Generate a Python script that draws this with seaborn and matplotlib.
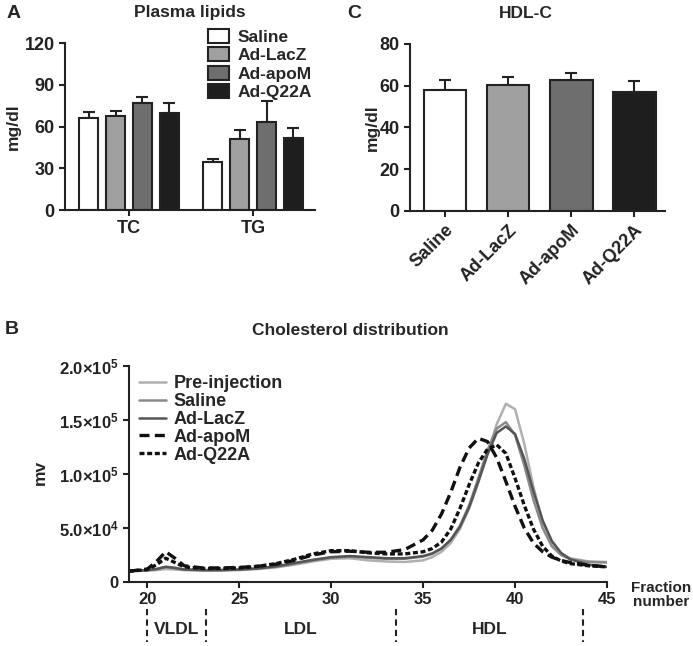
import matplotlib
matplotlib.use("Agg")
import matplotlib.pyplot as plt
from matplotlib.ticker import FuncFormatter
import pandas as pd
import seaborn as sns

# --- data ---
groups = ["Saline", "Ad-LacZ", "Ad-apoM", "Ad-Q22A"]
bar_colors = ["#ffffff", "#a0a0a0", "#6e6e6e", "#1e1e1e"]

lipids = ["TC", "TG"]
tc_mean = [66.0, 67.6, 77.2, 69.5]
tc_sem = [4.5, 3.6, 3.8, 7.2]
tg_mean = [34.8, 51.3, 63.3, 52.0]
tg_sem = [2.2, 6.0, 14.7, 6.8]

hdl_mean = [58.0, 60.3, 62.8, 56.8]
hdl_sem = [4.8, 3.8, 3.2, 5.5]

fraction = [19, 20, 20.5, 21, 21.5, 22, 23, 24, 25, 26, 27, 28, 29, 30, 31, 32, 33, 34,
            35, 35.5, 36, 36.5, 37, 37.5, 38, 38.5, 39, 39.5, 40, 40.5, 41, 41.5, 42,
            42.5, 43, 44, 45]
# values in units of 1e4 mv
pre_injection = [1.0, 1.05, 1.1, 1.2, 1.15, 1.1, 1.05, 1.05, 1.1, 1.2, 1.35, 1.6, 1.9, 2.15,
                 2.2, 2.0, 1.9, 1.85, 2.0, 2.3, 2.8, 3.6, 4.9, 6.8, 9.2, 11.9, 14.6, 16.5,
                 16.0, 12.8, 8.8, 5.6, 3.6, 2.6, 2.2, 1.9, 1.85]
saline = [1.0, 1.1, 1.2, 1.4, 1.3, 1.15, 1.1, 1.1, 1.15, 1.25, 1.4, 1.7, 2.0, 2.25,
          2.35, 2.25, 2.15, 2.15, 2.35, 2.6, 3.1, 3.9, 5.2, 7.1, 9.6, 12.2, 14.2, 14.8,
          13.6, 10.8, 7.6, 5.0, 3.3, 2.5, 2.1, 1.85, 1.8]
ad_lacz = [1.0, 1.1, 1.2, 1.4, 1.3, 1.15, 1.1, 1.1, 1.15, 1.25, 1.45, 1.75, 2.05, 2.3,
           2.4, 2.3, 2.2, 2.2, 2.4, 2.65, 3.1, 3.9, 5.1, 6.9, 9.3, 11.8, 13.8, 14.4,
           13.7, 11.4, 8.4, 5.7, 3.8, 2.7, 2.1, 1.6, 1.4]
ad_apom = [1.0, 1.2, 1.9, 2.8, 2.2, 1.5, 1.3, 1.3, 1.35, 1.45, 1.65, 2.0, 2.5, 2.8,
           2.85, 2.75, 2.75, 3.0, 3.9, 4.8, 6.3, 8.3, 10.6, 12.4, 13.3, 13.0, 11.5, 9.3,
           7.0, 5.0, 3.6, 2.8, 2.3, 2.0, 1.8, 1.55, 1.4]
ad_q22a = [1.0, 1.15, 1.6, 2.2, 1.8, 1.4, 1.25, 1.25, 1.3, 1.45, 1.7, 2.1, 2.6, 2.9,
           2.9, 2.7, 2.6, 2.6, 2.8, 3.1, 3.7, 4.9, 6.8, 9.0, 11.0, 12.3, 12.7, 11.9,
           9.6, 7.1, 4.9, 3.3, 2.4, 1.95, 1.7, 1.5, 1.4]
curve_names = ["Pre-injection", "Saline", "Ad-LacZ", "Ad-apoM", "Ad-Q22A"]
curves = [pre_injection, saline, ad_lacz, ad_apom, ad_q22a]

region_bounds = [20, 23.2, 33.5, 43.7]
region_labels = ["VLDL", "LDL", "HDL"]

# --- style ---
sns.set_style("ticks")
plt.rcParams["font.family"] = ["Liberation Sans", "DejaVu Sans"]
plt.rcParams["font.weight"] = "bold"
plt.rcParams["axes.labelweight"] = "bold"
plt.rcParams["axes.linewidth"] = 1.5
plt.rcParams["xtick.major.width"] = 1.5
plt.rcParams["ytick.major.width"] = 1.5
plt.rcParams["xtick.major.size"] = 4
plt.rcParams["ytick.major.size"] = 4
plt.rcParams["xtick.color"] = "#222222"
plt.rcParams["ytick.color"] = "#222222"
plt.rcParams["axes.edgecolor"] = "#222222"
plt.rcParams["mathtext.fontset"] = "custom"
plt.rcParams["mathtext.rm"] = "Liberation Sans:bold"
plt.rcParams["mathtext.it"] = "Liberation Sans:bold"
plt.rcParams["mathtext.bf"] = "Liberation Sans:bold"

fig = plt.figure(figsize=(6.93, 6.46), dpi=100)
axA = fig.add_axes([0.0938, 0.6749, 0.3608, 0.2585])
axC = fig.add_axes([0.5916, 0.6734, 0.3680, 0.2585])
axB = fig.add_axes([0.1861, 0.0991, 0.6898, 0.3344])


def add_upper_err(ax, containers, errs):
    for cont, err in zip(containers, errs):
        xs = [p.get_x() + p.get_width() / 2 for p in cont.patches]
        ys = [p.get_height() for p in cont.patches]
        ax.errorbar(xs, ys, yerr=[[0] * len(err), err], fmt="none", ecolor="#222222",
                    elinewidth=1.5, capsize=4.5, capthick=1.5, zorder=1)


# --- panel A ---
dfA = pd.DataFrame({
    "lipid": lipids * len(groups),
    "group": [g for g in groups for _ in lipids],
    "value": [v for pair in zip(tc_mean, tg_mean) for v in pair],
})
sns.barplot(data=dfA, x="lipid", y="value", hue="group", hue_order=groups,
            palette=bar_colors, edgecolor="#222222", linewidth=1.5, width=0.87, gap=0.3,
            errorbar=None, legend=False, ax=axA, zorder=2)
bars_A = list(axA.containers)
add_upper_err(axA, bars_A, [list(p) for p in zip(tc_sem, tg_sem)])
axA.set_ylim(0, 120)
axA.set_yticks([0, 30, 60, 90, 120])
axA.set_xlim(-0.516, 1.5)
axA.set_xlabel("")
axA.set_ylabel("mg/dl", fontsize=12.5)
axA.yaxis.set_label_coords(-0.176, 0.5)
axA.tick_params(labelsize=13)
sns.despine(ax=axA)
axA.text(0.5, 1.18, "Plasma lipids", transform=axA.transAxes, ha="center", va="center",
         fontsize=12.5)
axA.legend(handles=[c.patches[0] for c in bars_A], labels=groups, frameon=False,
           loc="upper left", bbox_to_anchor=(199 / 693, 1 - 20 / 646),
           bbox_transform=fig.transFigure, borderpad=0, handlelength=1.25,
           handleheight=0.85, handletextpad=0.45, labelspacing=0.15, fontsize=12.5)

# --- panel C ---
sns.barplot(x=groups, y=hdl_mean, hue=groups, palette=bar_colors, edgecolor="#222222",
            linewidth=1.5, width=0.68, errorbar=None, legend=False, ax=axC, zorder=2)
bars_C = list(axC.containers)
add_upper_err(axC, bars_C, [[e] for e in hdl_sem])
axC.set_ylim(0, 80)
axC.set_yticks([0, 20, 40, 60, 80])
axC.set_xlim(-0.556, 3.49)
axC.set_ylabel("mg/dl", fontsize=12.5)
axC.yaxis.set_label_coords(-0.12, 0.5)
axC.tick_params(labelsize=13)
plt.setp(axC.get_xticklabels(), rotation=45, ha="right", va="top", rotation_mode="anchor")
sns.despine(ax=axC)
axC.text(0.455, 1.18, "HDL-C", transform=axC.transAxes, ha="center", va="center",
         fontsize=12.5)

# --- panel B ---
line_colors = ["#b0b0b0", "#8a8a8a", "#555555", "#111111", "#111111"]
line_widths = [1.8, 1.8, 1.8, 2.4, 2.4]
line_dashes = [None, None, None, (3.0, 1.6), (1.5, 0.8)]
for name, vals, col, lw, ds in zip(curve_names, curves, line_colors, line_widths, line_dashes):
    kw = {} if ds is None else {"dashes": ds}
    sns.lineplot(x=fraction, y=[v * 1e4 for v in vals], color=col, linewidth=lw,
                 label=name, ax=axB, **kw)
axB.set_xlim(19, 45)
axB.set_ylim(0, 2.0e5)
axB.set_xticks([20, 25, 30, 35, 40, 45])
axB.set_yticks([0, 5e4, 1e5, 1.5e5, 2e5])


def sci_fmt(v, pos):
    if v == 0:
        return "0"
    e = len(str(int(v))) - 1
    return r"$%.1f{\times}10^{%d}$" % (v / 10 ** e, e)


axB.yaxis.set_major_formatter(FuncFormatter(sci_fmt))
axB.tick_params(labelsize=12)
axB.set_ylabel("mv", fontsize=12.5)
axB.yaxis.set_label_coords(-0.17, 0.505)
sns.despine(ax=axB)
axB.text(0.462, 1.162, "Cholesterol distribution", transform=axB.transAxes,
         ha="center", va="center", fontsize=12.5)
axB.legend(frameon=False, loc="upper left", bbox_to_anchor=(130 / 693, 1 - 366 / 646),
           bbox_transform=fig.transFigure, borderpad=0, handlelength=1.5,
           handletextpad=0.4, labelspacing=0.05, fontsize=13)
axB.text(1.05, -0.06, "Fraction\nnumber", transform=axB.transAxes, ha="left",
         va="center", multialignment="center", fontsize=11, linespacing=1.05)

trans = axB.get_xaxis_transform()
for b in region_bounds:
    axB.plot([b, b], [-0.125, -0.278], transform=trans, color="#222222", lw=1.5,
             dashes=(3, 2), clip_on=False)
for lab, lo, hi in zip(region_labels, region_bounds[:-1], region_bounds[1:]):
    axB.text((lo + hi) / 2, -0.222, lab, transform=trans, ha="center", va="center",
             fontsize=12.5)

# --- panel letters ---
fig.text(7 / 693, 1 - 13 / 646, "A", fontsize=14, va="center")
fig.text(347 / 693, 1 - 13 / 646, "C", fontsize=14, va="center")
fig.text(5 / 693, 1 - 330 / 646, "B", fontsize=14, va="center")

fig.savefig("out.png", dpi=100)
